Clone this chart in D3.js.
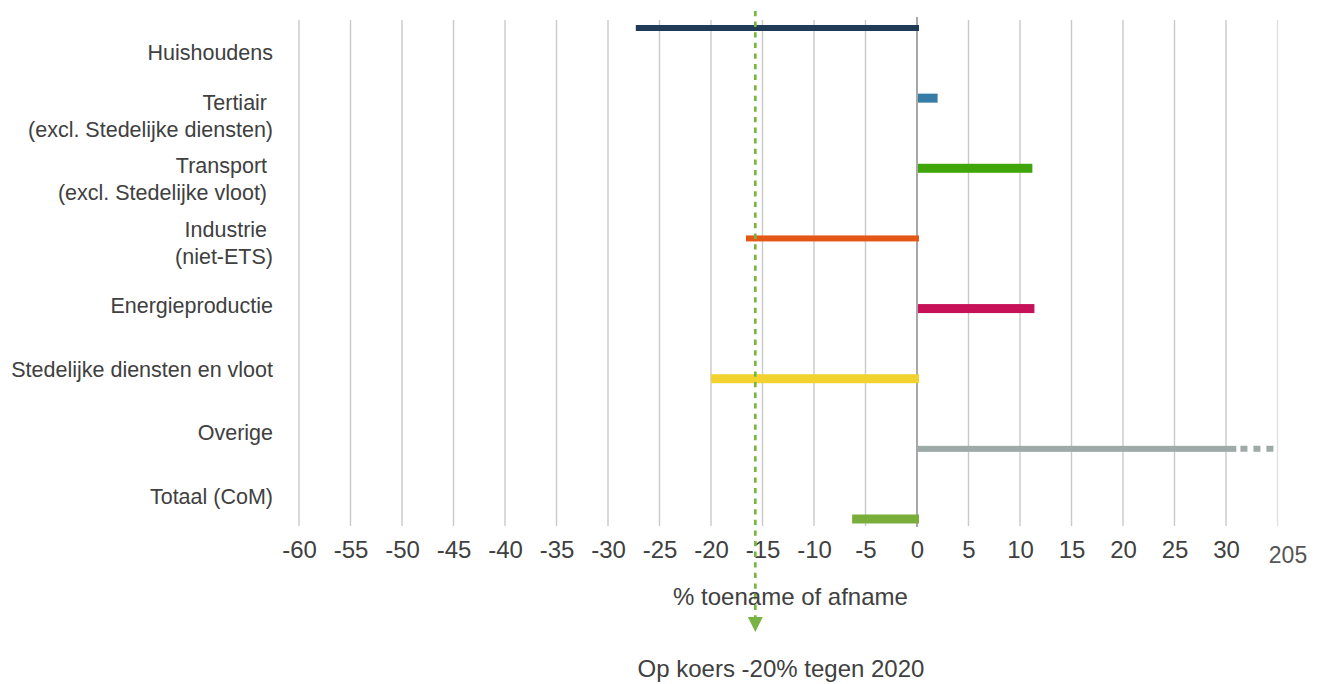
<!DOCTYPE html>
<html><head><meta charset="utf-8">
<script src="https://cdn.jsdelivr.net/npm/d3@7"></script>
<style>body{margin:0;background:#fff} svg{display:block;font-family:"Liberation Sans",Arial,sans-serif}</style>
</head><body><svg id="c" width="1320" height="684"></svg>
<script>
// ---- data ----
const categories = ["Huishoudens","Tertiair","Transport","Industrie","Energieproductie","Stedelijke diensten en vloot","Overige","Totaal (CoM)"];
const labelLines = [
  ["Huishoudens"],
  ["Tertiair\u00a0","(excl. Stedelijke diensten)"],
  ["Transport\u00a0","(excl. Stedelijke vloot)\u00a0"],
  ["Industrie\u00a0","(niet-ETS)"],
  ["Energieproductie"],
  ["Stedelijke diensten en vloot"],
  ["Overige"],
  ["Totaal (CoM)"]
];
const values = [-27.3, 2.0, 11.2, -16.6, 11.4, -20.0, 205, -6.3];
const tickValues = d3.range(-60, 31, 5);
const breakLabel = "205";
const targetValue = -15.7;
const targetLabel = "Op koers -20% tegen 2020";
const axisTitle = "% toename of afname";

// ---- styles ----
const colors = ["#213a58","#357ca6","#40a50a","#e55714","#c7125a","#f1d22f","#9eaaa8","#79ae3b"];
const barThickness = [6,9,9,6,9,9,6,9];
const textColor = "#404040";

const svg = d3.select("#c");
const x = d3.scaleLinear().domain([-60, 35]).range([299, 1277.5]);
const yBar = d3.scalePoint().domain(categories).range([28, 519]);
const yLab = d3.scalePoint().domain(categories).range([52.5, 496]);
const gridTop = 20, gridBottom = 526;

// gridlines
svg.append("g").selectAll("line").data(tickValues.concat([35])).join("line")
  .attr("x1", d => x(d)).attr("x2", d => x(d))
  .attr("y1", d => d === 0 ? gridTop - 3 : gridTop).attr("y2", d => gridBottom + (d === 0 ? 1 : 0))
  .attr("stroke", d => d === 0 ? "#a8a8a8" : (d === 35 ? "#e2e2e2" : "#c9c9c9"))
  .attr("stroke-width", d => d === 0 ? 2 : 1.4);

// x axis labels
const axis = d3.axisBottom(x).tickValues(tickValues).tickSize(0).tickPadding(15).tickFormat(d => String(d));
const ag = svg.append("g").attr("transform", `translate(0,${gridBottom})`).call(axis);
ag.select(".domain").remove();
ag.selectAll("text").attr("font-size", 24).attr("fill", textColor)
  .attr("font-family", '"Liberation Sans",Arial,sans-serif');

svg.append("text").attr("x", 1288).attr("y", 563).attr("text-anchor", "middle")
  .attr("font-size", 23).attr("fill", "#555").text(breakLabel);

// bars
const xMaxShown = tickValues[tickValues.length-1] + 1;
const bars = svg.append("g");
values.forEach((v, i) => {
  const cat = categories[i];
  const shown = Math.min(v, xMaxShown);
  const x0 = x(Math.min(0, shown)), x1 = x(Math.max(0, shown));
  bars.append("rect")
    .attr("x", x0 + (v > 0 ? 1 : 0)).attr("width", x1 - x0 + (v < 0 ? 2 : -1))
    .attr("y", yBar(cat) - barThickness[i]/2).attr("height", barThickness[i])
    .attr("fill", colors[i]);
  if (v > x.domain()[1]) {
    bars.append("line")
      .attr("x1", x(31.4)).attr("x2", x(34.6))
      .attr("y1", yBar(cat)).attr("y2", yBar(cat))
      .attr("stroke", colors[i]).attr("stroke-width", barThickness[i])
      .attr("stroke-dasharray", "7,6");
  }
});

// category labels
const lg = svg.append("g");
labelLines.forEach((lines, i) => {
  const cy = yLab(categories[i]);
  const lh = 27;
  const n = lines.length;
  lines.forEach((t, j) => {
    const c = cy + (j - (n-1)/2) * lh;
    lg.append("text").attr("x", 273).attr("y", c + 7.5)
      .attr("text-anchor", "end").attr("font-size", 21.5).attr("fill", textColor).text(t);
  });
});

// target dashed arrow
const tx = x(targetValue);
svg.append("line").attr("x1", tx).attr("x2", tx).attr("y1", 11).attr("y2", 619)
  .attr("stroke", "#78b443").attr("stroke-width", 2.7).attr("stroke-dasharray", "5.3,5.3");
svg.append("path")
  .attr("d", `M${tx-7.5},617 L${tx+7.5},617 L${tx},632 Z`)
  .attr("fill", "#78b443");

// titles
svg.append("text").attr("x", 790.5).attr("y", 605).attr("text-anchor", "middle")
  .attr("font-size", 24).attr("fill", textColor).text(axisTitle);
svg.append("text").attr("x", 781).attr("y", 677).attr("text-anchor", "middle")
  .attr("font-size", 24).attr("fill", textColor).text(targetLabel);
</script>
</body></html>
